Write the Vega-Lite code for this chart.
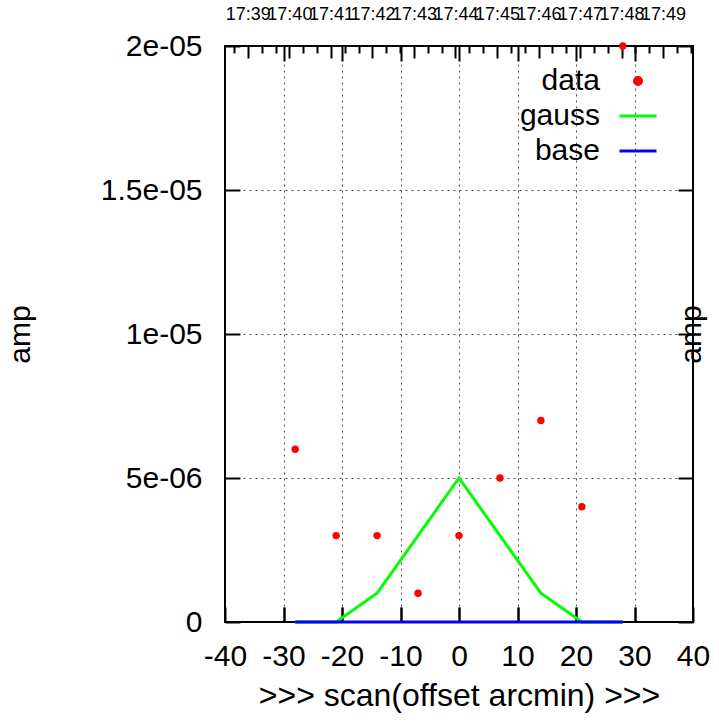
{
  "$schema": "https://vega.github.io/schema/vega-lite/v6.json",
  "width": 468,
  "height": 576,
  "autosize": "none",
  "padding": {"left": 225, "top": 46, "right": 26, "bottom": 102},
  "background": "white",
  "config": {
    "view": {"stroke": "black", "strokeWidth": 2},
    "font": "Liberation Sans",
    "axis": {"labelFont": "Liberation Sans", "titleFont": "Liberation Sans", "labelColor": "black", "titleColor": "black", "titleFontWeight": "normal", "tickColor": "black", "tickOpacity": 1, "domain": false}
  },
  "datasets": {
    "scan": [
      {"x": -28, "amp": 6e-6, "gauss": 0, "base": 0},
      {"x": -21, "amp": 3e-6, "gauss": 0, "base": 0},
      {"x": -14, "amp": 3e-6, "gauss": 1e-6, "base": 0},
      {"x": -7, "amp": 1e-6, "gauss": 3e-6, "base": 0},
      {"x": 0, "amp": 3e-6, "gauss": 5e-6, "base": 0},
      {"x": 7, "amp": 5e-6, "gauss": 3e-6, "base": 0},
      {"x": 14, "amp": 7e-6, "gauss": 1e-6, "base": 0},
      {"x": 21, "amp": 4e-6, "gauss": 0, "base": 0},
      {"x": 28, "amp": 2e-5, "gauss": 0, "base": 0}
    ],
    "time": [
      {"t": 39, "v": 0}, {"t": 40, "v": 0}, {"t": 41, "v": 0}, {"t": 42, "v": 0},
      {"t": 43, "v": 0}, {"t": 44, "v": 0}, {"t": 45, "v": 0}, {"t": 46, "v": 0},
      {"t": 47, "v": 0}, {"t": 48, "v": 0}, {"t": 49, "v": 0}
    ]
  },
  "layer": [
    {
      "data": {"name": "scan"},
      "encoding": {
        "x": {
          "field": "x", "type": "quantitative",
          "scale": {"domain": [-40, 40], "nice": false, "zero": false},
          "axis": {
            "orient": "bottom", "values": [-40, -30, -20, -10, 0, 10, 20, 30, 40],
            "ticks": true, "offset": -15, "tickSize": 15, "tickWidth": 2, "labelPadding": 19,
            "labelExpr": "'' + datum.value", "labelFontSize": 30,
            "grid": true, "gridDash": [2, 4], "gridColor": "black", "gridOpacity": 0.7, "gridWidth": 1,
            "labelFlush": false, "labelOverlap": false,
            "title": ">>> scan(offset arcmin) >>>", "titleFontSize": 32,
            "titleX": 234, "titleY": 88, "titleBaseline": "middle", "titleAlign": "center"
          }
        }
      },
      "layer": [
        {
          "mark": {"type": "line", "strokeWidth": 3, "clip": false},
          "encoding": {
            "y": {"field": "gauss", "type": "quantitative", "title": "amp", "scale": {"domain": [0, 2e-5], "nice": false},
              "axis": {"orient": "left", "values": [0, 5e-6, 1e-5, 1.5e-5, 2e-5],
                "labelExpr": "datum.value < 1e-7 ? '0' : round(datum.value*1e7) == 50 ? '5e-06' : round(datum.value*1e7) == 100 ? '1e-05' : round(datum.value*1e7) == 150 ? '1.5e-05' : '2e-05'",
                "offset": -15, "tickSize": 15, "tickWidth": 2, "labelPadding": 23,
                "labelFontSize": 30,
                "grid": true, "gridDash": [2, 4], "gridColor": "black", "gridOpacity": 0.7, "gridWidth": 1,
                "labelFlush": false, "labelOverlap": false,
                "titleFontSize": 30, "titleAngle": 270, "titleX": -220, "titleY": 288, "titleBaseline": "middle", "titleAlign": "center"}},
            "color": {"datum": "gauss", "type": "nominal",
              "scale": {"domain": ["data", "gauss", "base"], "range": ["#ff0000", "#00ff00", "#0000ff"]},
              "legend": {"title": null, "orient": "none", "legendX": 393, "legendY": 15, "padding": 0,
                "symbolSize": 100, "labelFontSize": 30, "labelAlign": "right", "labelOffset": -58, "labelBaseline": "middle", "labelColor": "black", "labelLimit": 300, "rowPadding": -5,
                "encode": {"symbols": {"update": {
                  "shape": {"signal": "datum.value === 'data' ? 'circle' : 'stroke'"},
                  "size": {"signal": "datum.value === 'data' ? 50 : 1369"},
                  "strokeWidth": {"value": 3},
                  "opacity": {"value": 1},
                  "fill": {"signal": "datum.value === 'data' ? scale('color', datum.value) : 'transparent'"},
                  "stroke": {"signal": "datum.value === 'data' ? 'transparent' : scale('color', datum.value)"}
                }}}}
            }
          }
        },
        {
          "mark": {"type": "line", "strokeWidth": 3, "clip": false},
          "encoding": {
            "y": {"field": "base", "type": "quantitative", "title": "amp", "scale": {"domain": [0, 2e-5], "nice": false}},
            "color": {"datum": "base", "type": "nominal"}
          }
        },
        {
          "mark": {"type": "point", "filled": true, "size": 55, "opacity": 1, "clip": false},
          "encoding": {
            "y": {"field": "amp", "type": "quantitative", "title": "amp", "scale": {"domain": [0, 2e-5], "nice": false}},
            "color": {"datum": "data", "type": "nominal"}
          }
        }
      ]
    },
    {
      "data": {"name": "time"},
      "mark": {"type": "point", "opacity": 0},
      "encoding": {
        "x": {"field": "t", "type": "quantitative",
          "scale": {"domain": [38.45, 49.72], "nice": false, "zero": false},
          "axis": {"orient": "top", "values": [39, 40, 41, 42, 43, 44, 45, 46, 47, 48, 49],
            "offset": -12, "tickSize": 12, "tickWidth": 2, "labelPadding": 23,
            "labelExpr": "'17:' + datum.value", "labelFontSize": 18,
            "labelFlush": false, "labelOverlap": false, "grid": false, "title": null}},
        "y": {"field": "v", "type": "quantitative",
          "scale": {"domain": [0, 2e-5], "nice": false},
          "axis": {"orient": "right", "values": [0, 5e-6, 1e-5, 1.5e-5, 2e-5], "labels": false,
            "offset": -15, "tickSize": 15, "tickWidth": 2, "grid": false,
            "title": "amp", "titleFontSize": 30, "titleAngle": 270, "titleX": 13, "titleY": 288, "titleBaseline": "middle", "titleAlign": "center"}}
      }
    },
    {
      "data": {"name": "time"},
      "mark": {"type": "point", "opacity": 0},
      "encoding": {
        "x": {"field": "t", "type": "quantitative",
          "scale": {"domain": [38.45, 49.72], "nice": false, "zero": false},
          "axis": {"orient": "top", "values": [38.6667, 39.3333, 39.6667, 40.3333, 40.6667, 41.3333, 41.6667, 42.3333, 42.6667, 43.3333, 43.6667, 44.3333, 44.6667, 45.3333, 45.6667, 46.3333, 46.6667, 47.3333, 47.6667, 48.3333, 48.6667, 49.3333, 49.6667],
            "labels": false, "offset": -7, "tickSize": 7, "tickWidth": 2, "grid": false, "title": null}}
      }
    },
    {
      "data": {"name": "scan"},
      "mark": {"type": "point", "opacity": 0},
      "encoding": {
        "x": {"field": "x", "type": "quantitative",
          "scale": {"domain": [-40, 40], "nice": false, "zero": false},
          "axis": {"orient": "top", "values": [-30, -20, -10, 0, 10, 20, 30],
            "labels": false, "offset": -15, "tickSize": 15, "tickWidth": 2, "grid": false, "title": null}}
      }
    },
    {
      "data": {"name": "scan"},
      "mark": {"type": "point", "opacity": 0},
      "encoding": {
        "x": {"field": "x", "type": "quantitative",
          "scale": {"domain": [-40, 40], "nice": false, "zero": false},
          "axis": {"orient": "bottom", "values": [-30, -20, -10, 0, 10, 20, 30],
            "labels": false, "offset": -15, "tickSize": 15, "tickWidth": 2, "grid": false, "title": null}}
      }
    }
  ],
  "resolve": {"scale": {"x": "independent", "y": "independent"}, "axis": {"x": "independent", "y": "independent"}}
}
